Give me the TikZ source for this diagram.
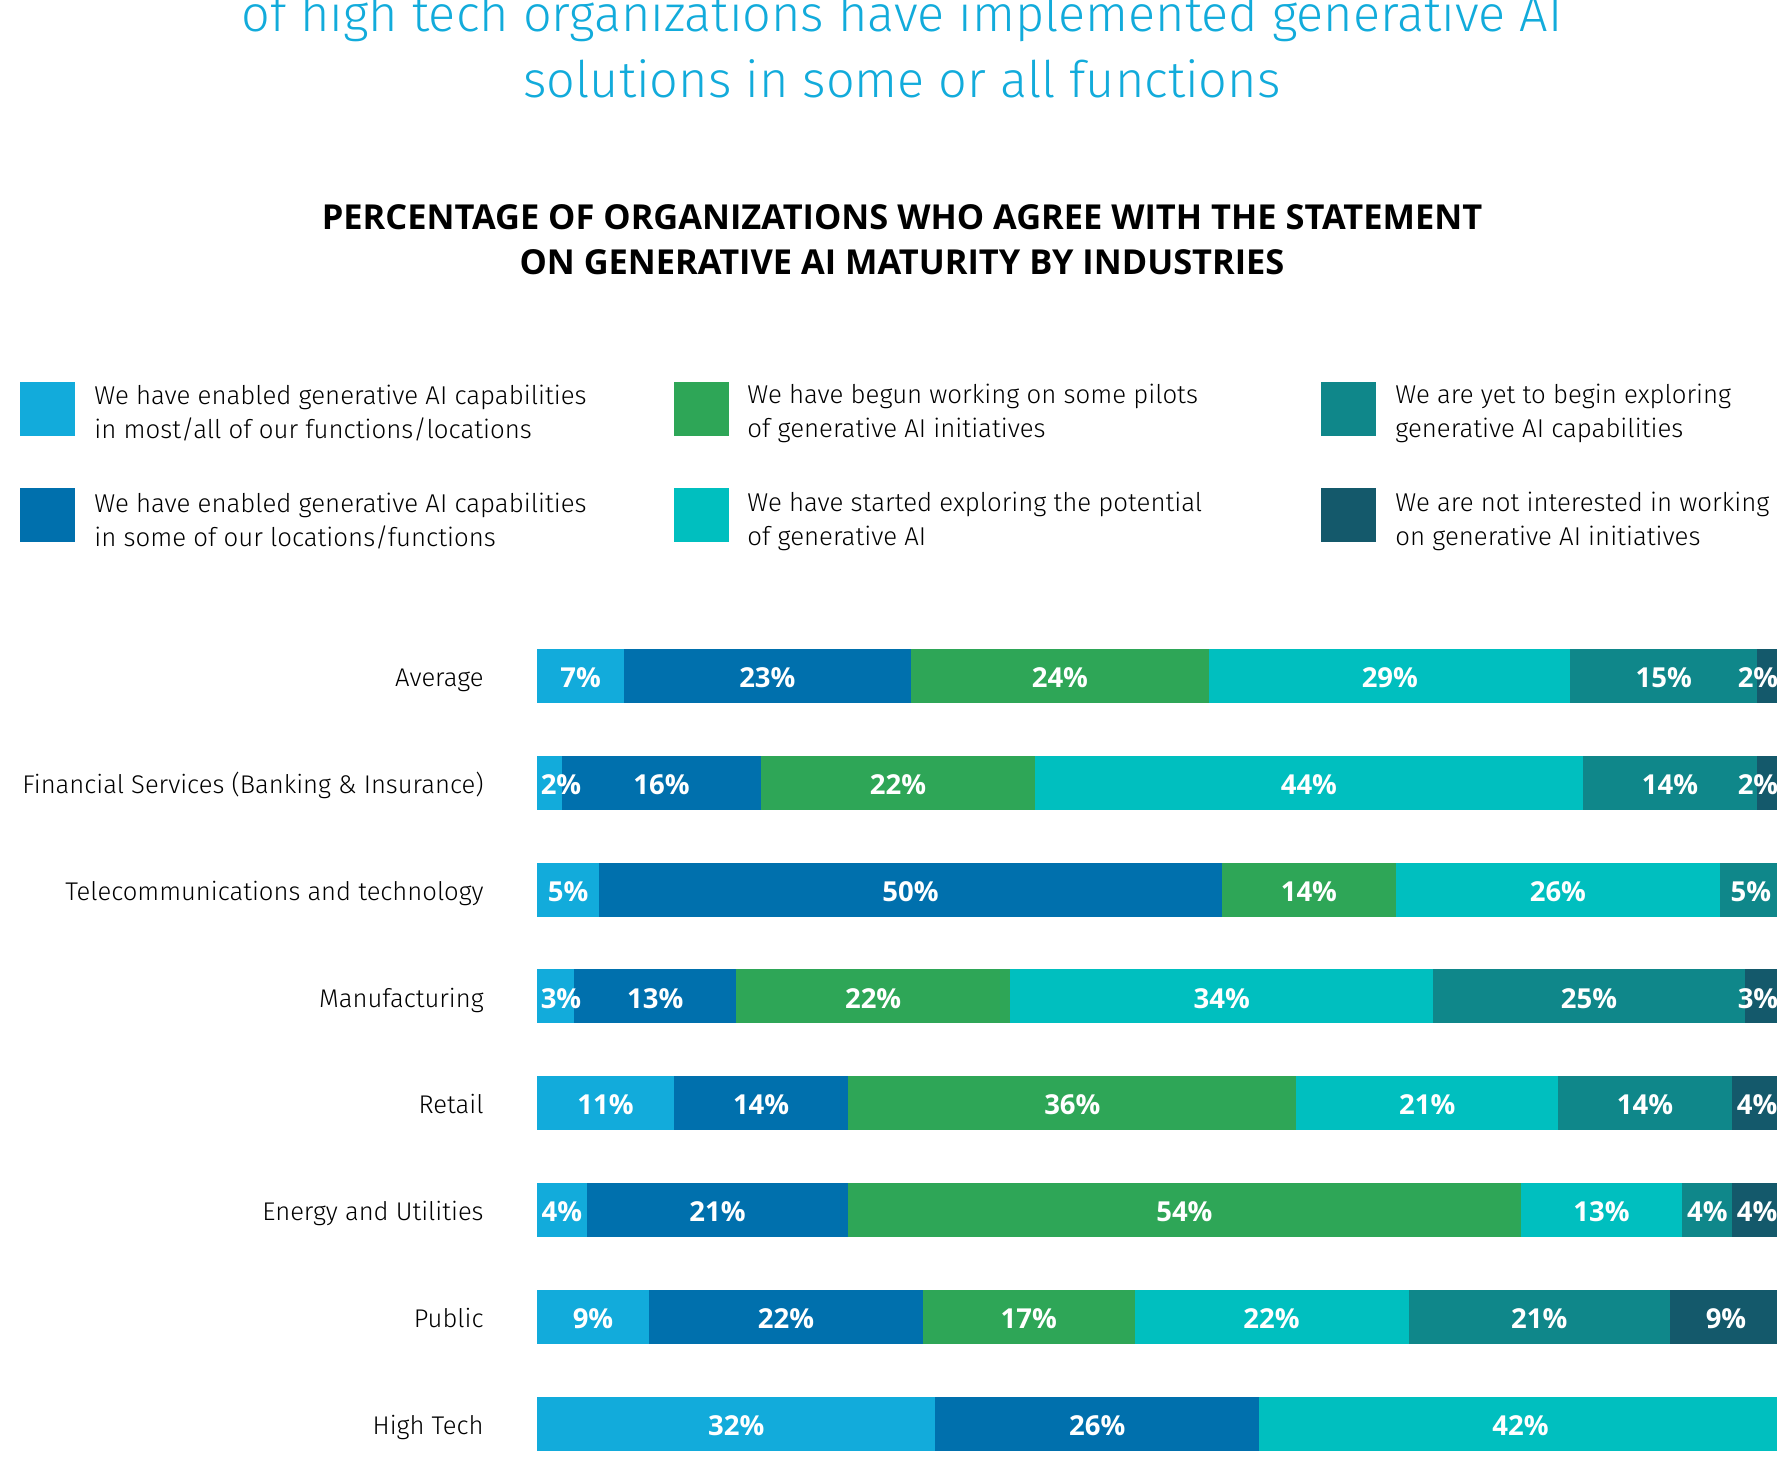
\documentclass[tikz,border=0pt]{standalone}
\usepackage{fontspec}
\usetikzlibrary{backgrounds}
\setmainfont{Fira Sans Light}[BoldFont={Fira Sans Bold}]
\newfontfamily\pctfont{Open Sans}

\definecolor{c1}{HTML}{12ABDB}
\definecolor{c2}{HTML}{0070AD}
\definecolor{c3}{HTML}{2EA657}
\definecolor{c4}{HTML}{00BFBF}
\definecolor{c5}{HTML}{0F878A}
\definecolor{c6}{HTML}{14596B}

\tikzset{
  headline/.style={anchor=base,text=c1,inner sep=0,font=\fontsize{25.2}{30}\selectfont},
  subhead/.style={anchor=base,inner sep=0,font=\pctfont\bfseries\fontsize{17.2}{22}\selectfont},
  keybox/.style={fill=#1,anchor=north west,inner sep=0,minimum width=27.5pt,minimum height=27pt},
  keytext/.style={anchor=west,align=left,inner sep=0,font=\fontsize{12.9}{17}\selectfont},
  rowlab/.style={anchor=base east,inner sep=0,font=\fontsize{12.8}{15}\selectfont},
  pct/.style={anchor=base,text=white,inner sep=0,font=\pctfont\bfseries\fontsize{13.75}{16}\selectfont},
}

\begin{document}
\begin{tikzpicture}[x=0.5pt,y=-0.5pt]
    \useasboundingbox (0,0) rectangle (1777,1466);
    % title, cut at the top
    \node[headline] (t1) at (902,31.7) {of high tech organizations have implemented generative AI};
    \node[headline] (t2) at (902,97.7) {solutions in some or all functions};
    \node[subhead]  (h1) at (902,230)  {PERCENTAGE OF ORGANIZATIONS WHO AGREE WITH THE STATEMENT};
    \node[subhead]  (h2) at (902,274.3) {ON GENERATIVE AI MATURITY BY INDUSTRIES};
    % legend
    \node[keybox=c1] (k1) at (20,382)   {};
    \node[keytext]   (k1t) at (94,413)  {We have enabled generative AI capabilities\\in most/all of our functions/locations};
    \node[keybox=c2] (k2) at (20,488)   {};
    \node[keytext]   (k2t) at (94,521)  {We have enabled generative AI capabilities\\in some of our locations/functions};
    \node[keybox=c3] (k3) at (674,382)  {};
    \node[keytext]   (k3t) at (747,413) {We have begun working on some pilots\\of generative AI initiatives};
    \node[keybox=c4] (k4) at (674,488)  {};
    \node[keytext]   (k4t) at (747,521) {We have started exploring the potential\\of generative AI};
    \node[keybox=c5] (k5) at (1321,382) {};
    \node[keytext]   (k5t) at (1395,413) {We are yet to begin exploring\\generative AI capabilities};
    \node[keybox=c6] (k6) at (1321,488) {};
    \node[keytext]   (k6t) at (1395,521) {We are not interested in working\\on generative AI initiatives};
    % bars
    \foreach \name/\vals [count=\r from 0] in {
        Average/{7,23,24,29,15,2},
        Financial Services (Banking \& Insurance)/{2,16,22,44,14,2},
        Telecommunications and technology/{5,50,14,26,5,0},
        Manufacturing/{3,13,22,34,25,3},
        Retail/{11,14,36,21,14,4},
        Energy and Utilities/{4,21,54,13,4,4},
        Public/{9,22,17,22,21,9},
        High Tech/{32,26,0,42,0,0}}{
        \node[rowlab] (row\r) at (484,686.7+106.8*\r) {\name};
        \foreach \v [count=\k, remember=\e as \s (initially 0), evaluate=\v as \e using \s+\v] in \vals {
            \ifnum\v>0
                \begin{scope}[on background layer]
                    \fill[c\k] (537+12.45*\s,649+106.8*\r) rectangle (537+12.45*\e,703+106.8*\r);
                \end{scope}
                \pgfmathsetmacro\cx{max(561,min(1758,537+12.45*(\s+\v/2)))}
                \node[pct] (p\r-\k) at (\cx,687.7+106.8*\r) {\v\%};
            \fi
        }
    }
\end{tikzpicture}
\end{document}
